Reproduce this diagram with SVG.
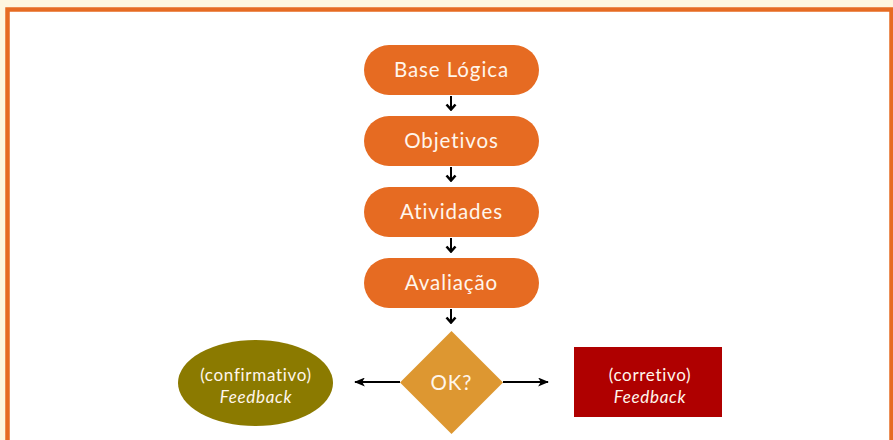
<svg xmlns="http://www.w3.org/2000/svg" width="893" height="440" viewBox="0 0 893 440">
<style>
.pill{fill:#e66b22}
.t{font-family:Lato,"Liberation Sans",sans-serif;fill:#fff6ec;text-anchor:middle}
.big{font-size:20.5px;letter-spacing:0.9px}
.sm{font-size:17px;letter-spacing:0.7px}
.it{font-style:italic}
.con{stroke:#000;stroke-width:2;fill:none}
</style>
<defs>
<marker id="ah" viewBox="0 0 12 10" refX="11" refY="5" markerWidth="12" markerHeight="9" markerUnits="userSpaceOnUse" orient="auto">
<path d="M0,0 L12,5 L0,10 L3,5 Z" fill="#000"/>
</marker>
<marker id="ch" viewBox="0 0 12 8" refX="6" refY="7" markerWidth="12" markerHeight="8" markerUnits="userSpaceOnUse" orient="0">
<path d="M1.5,1.5 L6,6.5 L10.5,1.5" fill="none" stroke="#000" stroke-width="2.6"/>
</marker>
</defs>
<rect x="0" y="0" width="893" height="440" fill="#fef6df"/>
<rect x="7.5" y="9.5" width="884" height="440" fill="#fff" stroke="#e66b22" stroke-width="4.5"/>
<g id="connectors">
<line class="con" x1="451" y1="96" x2="451" y2="110" marker-end="url(#ch)"/>
<line class="con" x1="451" y1="167" x2="451" y2="181" marker-end="url(#ch)"/>
<line class="con" x1="451" y1="238" x2="451" y2="252" marker-end="url(#ch)"/>
<line class="con" x1="451" y1="309" x2="451" y2="323" marker-end="url(#ch)"/>
<line class="con" x1="400" y1="382" x2="355" y2="382" stroke-width="1.5" marker-end="url(#ah)"/>
<line class="con" x1="503" y1="382" x2="548" y2="382" stroke-width="1.5" marker-end="url(#ah)"/>
</g>
<g id="base-logica">
<rect class="pill" x="364" y="45" width="175" height="50" rx="25"/>
<text class="t big" x="451.5" y="77">Base Lógica</text>
</g>
<g id="objetivos">
<rect class="pill" x="364" y="116" width="175" height="50" rx="25"/>
<text class="t big" x="451.5" y="148">Objetivos</text>
</g>
<g id="atividades">
<rect class="pill" x="364" y="187" width="175" height="50" rx="25"/>
<text class="t big" x="451.5" y="219">Atividades</text>
</g>
<g id="avaliacao">
<rect class="pill" x="364" y="258" width="175" height="50" rx="25"/>
<text class="t big" x="451.5" y="290">Avaliação</text>
</g>
<g id="ok">
<polygon points="451.5,331 503,382.5 451.5,434 400,382.5" fill="#dd9731"/>
<text class="t big" x="451.5" y="390">OK?</text>
</g>
<g id="confirmativo">
<ellipse cx="255.5" cy="383" rx="77.5" ry="43" fill="#8b7a00"/>
<text class="t sm" x="256" y="381">(confirmativo)</text>
<text class="t sm it" x="256" y="403">Feedback</text>
</g>
<g id="corretivo">
<rect x="574" y="347" width="148" height="70" fill="#af0000"/>
<text class="t sm" x="650" y="381">(corretivo)</text>
<text class="t sm it" x="650" y="403">Feedback</text>
</g>
</svg>
